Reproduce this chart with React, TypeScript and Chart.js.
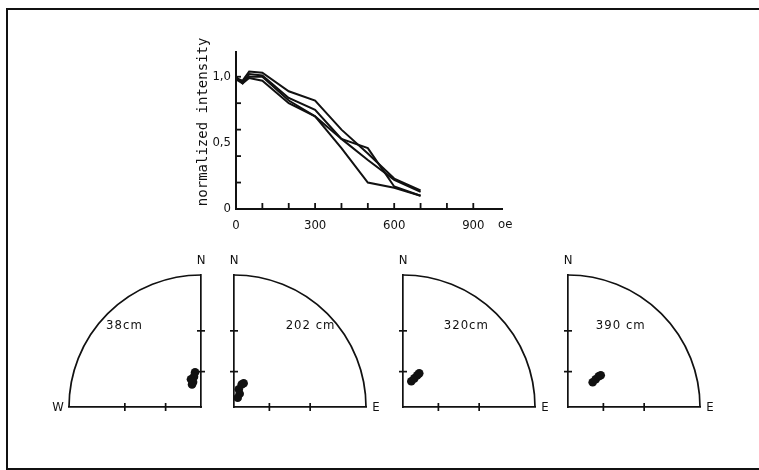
import React, { useEffect, useRef } from 'react';
import { Chart, registerables } from 'chart.js';

Chart.register(...registerables);

const FONT = "'DejaVu Sans Condensed', 'DejaVu Sans', sans-serif";
const MONO = "'DejaVu Sans Mono', monospace";
const INK = '#111111';

// ---------- demagnetisation curves (field in oe, normalized intensity) ----------
const fieldOe = [0, 25, 50, 100, 200, 300, 400, 500, 600, 700];
const intensityA = [0.99, 0.97, 1.04, 1.03, 0.89, 0.82, 0.6, 0.42, 0.23, 0.14];
const intensityB = [0.98, 0.95, 1.02, 1.01, 0.84, 0.75, 0.53, 0.37, 0.22, 0.13];
const intensityC = [0.99, 0.96, 1.0, 1.0, 0.82, 0.7, 0.53, 0.46, 0.17, 0.1];
const intensityD = [1.0, 0.95, 0.99, 0.97, 0.8, 0.7, 0.46, 0.2, 0.16, 0.1];

const oeTickValues = [0, 100, 200, 300, 400, 500, 600, 700, 800, 900];
const oeTickLabels = ['0', '', '', '300', '', '', '600', '', '', '900'];
const intensityTickValues = [0, 0.2, 0.4, 0.5, 0.6, 0.8, 1.0];
const intensityTickLabels = ['0', '', '', '0,5', '', '', '1,0'];
const intensityTickMarks = [false, true, true, false, true, true, true];

// ---------- stereonets (unit radius; x = east, y = north) ----------
const stereoTickRadii = [0.268, 0.577];
const depthLabels = ['38cm', '202 cm', '320cm', '390 cm'];
const sideLabels = ['W', 'E', 'E', 'E'];

const east38 = [-0.045, -0.053, -0.076, -0.068, -0.06];
const north38 = [0.263, 0.23, 0.21, 0.17, 0.19];
const east202 = [0.073, 0.058, 0.036, 0.043, 0.028];
const north202 = [0.18, 0.17, 0.134, 0.1, 0.07];
const east320 = [0.063, 0.086, 0.108, 0.123];
const north320 = [0.195, 0.217, 0.24, 0.255];
const east390 = [0.187, 0.21, 0.233, 0.248];
const north390 = [0.187, 0.21, 0.233, 0.24];

function DecayChart() {
  const ref = useRef<HTMLCanvasElement>(null);
  useEffect(() => {
    const series = [intensityA, intensityB, intensityC, intensityD];
    const decayPlugin = {
      id: 'decayMarks',
      afterDraw(chart: any) {
        const { ctx } = chart;
        const xs = chart.scales.x;
        const ys = chart.scales.y;
        const x0 = xs.left;
        const y0 = ys.bottom;
        ctx.save();
        ctx.strokeStyle = INK;
        ctx.lineWidth = 1.8;
        xs.ticks.forEach((t: any) => {
          if (t.value === 0) return;
          const px = xs.getPixelForValue(t.value);
          ctx.beginPath();
          ctx.moveTo(px, y0);
          ctx.lineTo(px, y0 - 6);
          ctx.stroke();
        });
        ys.ticks.forEach((t: any) => {
          const i = intensityTickValues.indexOf(t.value);
          if (i < 0 || !intensityTickMarks[i]) return;
          const py = ys.getPixelForValue(t.value);
          ctx.beginPath();
          ctx.moveTo(x0, py);
          ctx.lineTo(x0 + 5, py);
          ctx.stroke();
        });
        ctx.fillStyle = INK;
        ctx.font = `13px ${FONT}`;
        ctx.textAlign = 'center';
        ctx.textBaseline = 'middle';
        ctx.fillText('oe', xs.right + 3, y0 + 16);
        ctx.restore();
      },
    };
    const chart = new Chart(ref.current!, {
      type: 'line',
      data: {
        datasets: series.map((s, i) => ({
          label: 'curve ' + (i + 1),
          data: fieldOe.map((x, j) => ({ x, y: s[j] })),
          borderColor: INK,
          borderWidth: 2,
          pointRadius: 0,
          tension: 0,
          fill: false,
        })),
      },
      options: {
        responsive: false,
        animation: false,
        layout: { padding: { left: 0, top: 31.6, right: 17.7, bottom: 0 } },
        plugins: { legend: { display: false }, tooltip: { enabled: false } },
        scales: {
          x: {
            type: 'linear',
            min: 0,
            max: 1010,
            afterBuildTicks: (s: any) => {
              s.ticks = oeTickValues.map((v) => ({ value: v }));
            },
            afterFit: (s: any) => {
              s.height = 26;
            },
            grid: { drawOnChartArea: false, drawTicks: false },
            border: { display: true, color: INK, width: 2 },
            ticks: {
              autoSkip: false,
              maxRotation: 0,
              padding: 9,
              color: INK,
              font: { family: FONT, size: 13 },
              callback: (v: any) => {
                const i = oeTickValues.indexOf(Number(v));
                return i >= 0 ? oeTickLabels[i] : '';
              },
            },
          },
          y: {
            type: 'linear',
            min: 0,
            max: 1.19,
            afterBuildTicks: (s: any) => {
              s.ticks = intensityTickValues.map((v) => ({ value: v }));
            },
            afterFit: (s: any) => {
              s.width = 56;
            },
            grid: { drawOnChartArea: false, drawTicks: false },
            border: { display: true, color: INK, width: 2 },
            title: {
              display: true,
              text: '  normalized intensity',
              color: INK,
              font: { family: MONO, size: 14 },
              padding: { top: 14.6, bottom: 0 },
            },
            ticks: {
              autoSkip: false,
              padding: 5,
              color: INK,
              font: { family: FONT, size: 13 },
              callback: (v: any) => {
                const i = intensityTickValues.indexOf(Number(v));
                return i >= 0 ? intensityTickLabels[i] : '';
              },
            },
          },
        },
      },
      plugins: [decayPlugin],
    } as any);
    return () => chart.destroy();
  }, []);
  return (
    <canvas
      ref={ref}
      width={340}
      height={215}
      style={{ position: 'absolute', left: 180, top: 20 }}
    />
  );
}

type StereoProps = {
  east: number[];
  north: number[];
  west: boolean;
  depth: string;
  side: string;
  labelAt: [number, number];
  left: number;
  top: number;
};

function StereoNet({ east, north, west, depth, side, labelAt, left, top }: StereoProps) {
  const ref = useRef<HTMLCanvasElement>(null);
  useEffect(() => {
    const stereoPlugin = {
      id: 'stereoFrame',
      beforeDatasetsDraw(chart: any) {
        const { ctx } = chart;
        const xs = chart.scales.x;
        const ys = chart.scales.y;
        const cx = xs.getPixelForValue(0);
        const cy = ys.getPixelForValue(0);
        const r = Math.abs(ys.getPixelForValue(1) - cy);
        ctx.save();
        ctx.strokeStyle = INK;
        ctx.lineWidth = 1.7;
        ctx.beginPath();
        if (west) ctx.arc(cx, cy, r, Math.PI, 1.5 * Math.PI);
        else ctx.arc(cx, cy, r, 1.5 * Math.PI, 2 * Math.PI);
        ctx.stroke();
        xs.ticks.forEach((t: any) => {
          const px = xs.getPixelForValue(t.value);
          ctx.beginPath();
          ctx.moveTo(px, cy - 4);
          ctx.lineTo(px, cy + 4);
          ctx.stroke();
        });
        ys.ticks.forEach((t: any) => {
          const py = ys.getPixelForValue(t.value);
          ctx.beginPath();
          ctx.moveTo(cx - 4, py);
          ctx.lineTo(cx + 4, py);
          ctx.stroke();
        });
        ctx.fillStyle = INK;
        ctx.font = `13px ${FONT}`;
        ctx.textAlign = 'center';
        ctx.textBaseline = 'middle';
        ctx.fillText('N', cx, ys.getPixelForValue(1) - 14);
        const endX = xs.getPixelForValue(west ? -1 : 1);
        ctx.fillText(side, west ? endX - 11 : endX + 10, cy + 1);
        (ctx as any).letterSpacing = '1px';
        ctx.fillText(depth, xs.getPixelForValue(labelAt[0]), ys.getPixelForValue(labelAt[1]));
        ctx.restore();
      },
    };
    const chart = new Chart(ref.current!, {
      type: 'scatter',
      data: {
        datasets: [
          {
            label: depth,
            data: east.map((x, i) => ({ x, y: north[i] })),
            backgroundColor: INK,
            borderWidth: 0,
            pointRadius: 4.3,
            clip: false,
          },
        ],
      },
      options: {
        responsive: false,
        animation: false,
        layout: { padding: 30 },
        plugins: { legend: { display: false }, tooltip: { enabled: false } },
        scales: {
          x: {
            type: 'linear',
            min: west ? -1 : 0,
            max: west ? 0 : 1,
            position: 'bottom',
            afterBuildTicks: (s: any) => {
              s.ticks = stereoTickRadii.map((r) => ({ value: west ? -r : r }));
            },
            afterFit: (s: any) => {
              s.height = 0;
            },
            grid: { drawOnChartArea: false, drawTicks: false },
            border: { display: true, color: INK, width: 1.7 },
            ticks: { display: false },
          },
          y: {
            type: 'linear',
            min: 0,
            max: 1,
            position: west ? 'right' : 'left',
            afterBuildTicks: (s: any) => {
              s.ticks = stereoTickRadii.map((r) => ({ value: r }));
            },
            afterFit: (s: any) => {
              s.width = 0;
            },
            grid: { drawOnChartArea: false, drawTicks: false },
            border: { display: true, color: INK, width: 1.7 },
            ticks: { display: false },
          },
        },
      },
      plugins: [stereoPlugin],
    } as any);
    return () => chart.destroy();
  }, []);
  return (
    <canvas
      ref={ref}
      width={192}
      height={192}
      style={{ position: 'absolute', left, top }}
    />
  );
}

export default function App() {
  return (
    <div
      style={{
        position: 'absolute',
        left: 0,
        top: 0,
        width: 759,
        height: 470,
        background: '#ffffff',
        overflow: 'hidden',
      }}
    >
      <div
        style={{
          position: 'absolute',
          left: 6,
          top: 8,
          width: 800,
          height: 462,
          border: '2px solid #111',
          boxSizing: 'border-box',
        }}
      />
      <DecayChart />
      <StereoNet east={east38} north={north38} west={true} depth={depthLabels[0]} side={sideLabels[0]} labelAt={[-0.58, 0.62]} left={39} top={245} />
      <StereoNet east={east202} north={north202} west={false} depth={depthLabels[1]} side={sideLabels[1]} labelAt={[0.58, 0.62]} left={204.3} top={245} />
      <StereoNet east={east320} north={north320} west={false} depth={depthLabels[2]} side={sideLabels[2]} labelAt={[0.48, 0.62]} left={372.7} top={245} />
      <StereoNet east={east390} north={north390} west={false} depth={depthLabels[3]} side={sideLabels[3]} labelAt={[0.4, 0.62]} left={538.3} top={245} />
    </div>
  );
}
